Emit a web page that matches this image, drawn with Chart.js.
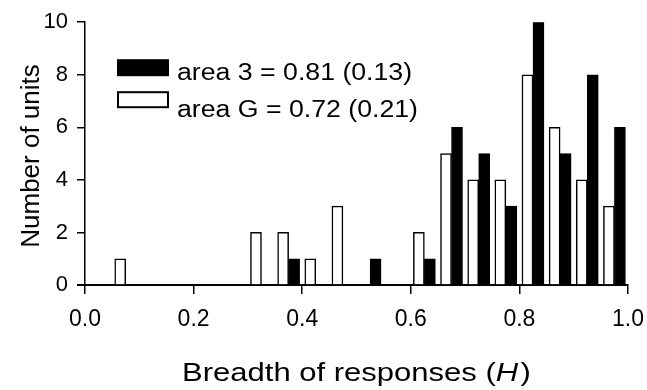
<!DOCTYPE html>
<html>
<head>
<meta charset="utf-8">
<script src="https://cdn.jsdelivr.net/npm/chart.js@4.4.0/dist/chart.umd.min.js"></script>
<style>
  html, body { margin: 0; padding: 0; background: #fff; }
  #wrap { width: 647px; height: 390px; }
</style>
</head>
<body>
<div id="wrap"><canvas id="hist"></canvas></div>
<script>
// lower edges of the 0.05-wide bins of H
const binStarts = [0.00, 0.05, 0.10, 0.15, 0.20, 0.25, 0.30, 0.35, 0.40, 0.45,
                   0.50, 0.55, 0.60, 0.65, 0.70, 0.75, 0.80, 0.85, 0.90, 0.95];
const binWidth = 0.05;
// number of units per bin
const area3Counts = [0, 0, 0, 0, 0, 0, 0, 1, 0, 0, 1, 0, 1, 6, 5, 3, 10, 5, 8, 6];
const areaGCounts = [0, 1, 0, 0, 0, 0, 2, 2, 1, 3, 0, 0, 2, 5, 4, 4, 8, 6, 4, 3];
const area3Label = 'area 3 = 0.81 (0.13)';
const areaGLabel = 'area G = 0.72 (0.21)';
const xTicks = [0.0, 0.2, 0.4, 0.6, 0.8, 1.0];
const yTicks = [0, 2, 4, 6, 8, 10];

const FONT = '"Liberation Sans", Arial, Helvetica, sans-serif';

// zeros are left out so no flat bar is drawn
function toPoints(counts) {
    return counts.map((c, i) => ({ x: binStarts[i] + binWidth / 2, y: c > 0 ? c : null }));
}

// text a bit wider than the font, like the scanned figure
function wideText(ctx, text, x, y, sx) {
    ctx.save();
    ctx.translate(x, y);
    ctx.scale(sx, 1);
    ctx.fillText(text, 0, 0);
    ctx.restore();
}

// legend + axis titles drawn by hand (italic H)
const extras = {
    id: 'extras',
    afterDraw(chart) {
        const ctx = chart.ctx;
        const a = chart.chartArea;
        ctx.save();

        // x axis runs a little past the y axis, as in the figure
        ctx.strokeStyle = '#000';
        ctx.lineWidth = 2;
        ctx.beginPath();
        ctx.moveTo(a.left - 8, a.bottom);
        ctx.lineTo(a.left, a.bottom);
        ctx.stroke();

        // legend
        const lx = a.left + 32, ly = a.top + 37;
        ctx.fillStyle = '#000';
        ctx.fillRect(lx, ly, 52, 17);
        ctx.fillStyle = '#fff';
        ctx.lineWidth = 2;
        ctx.fillRect(lx, ly + 32, 52, 17);
        ctx.strokeRect(lx + 1, ly + 33, 50, 15);
        ctx.fillStyle = '#000';
        ctx.font = '23px ' + FONT;
        ctx.textBaseline = 'alphabetic';
        ctx.textAlign = 'left';
        wideText(ctx, area3Label, lx + 60, ly + 21, 1.16);
        wideText(ctx, areaGLabel, lx + 60, ly + 58, 1.16);

        // x title with italic H
        const sx = 1.24;
        ctx.font = '25px ' + FONT;
        const p1 = 'Breadth of responses (';
        const p3 = ')';
        const w1 = ctx.measureText(p1).width * sx;
        const w3 = ctx.measureText(p3).width * sx;
        ctx.font = 'italic 25px ' + FONT;
        const w2 = (ctx.measureText('H').width + 2) * sx;
        const x = (a.left + a.right) / 2 - (w1 + w2 + w3) / 2;
        const yb = 381;
        ctx.font = '25px ' + FONT;
        wideText(ctx, p1, x, yb, sx);
        ctx.font = 'italic 25px ' + FONT;
        wideText(ctx, 'H', x + w1, yb, sx);
        ctx.font = '25px ' + FONT;
        wideText(ctx, p3, x + w1 + w2, yb, sx);

        // y title
        ctx.translate(39, 156);
        ctx.rotate(-Math.PI / 2);
        ctx.textAlign = 'center';
        ctx.font = '26px ' + FONT;
        ctx.fillText('Number of units', 0, 0);
        ctx.restore();
    }
};

new Chart(document.getElementById('hist'), {
    type: 'bar',
    data: {
        datasets: [
            { label: areaGLabel, data: toPoints(areaGCounts), backgroundColor: '#fff',
              borderColor: '#000', borderWidth: 1.5, barThickness: 11 },
            { label: area3Label, data: toPoints(area3Counts), backgroundColor: '#000',
              borderColor: '#000', borderWidth: 1, barThickness: 11 }
        ]
    },
    options: {
        responsive: true, maintainAspectRatio: false,
        animation: false,
        layout: { padding: { top: 20, right: 19, left: 0, bottom: 0 } },
        plugins: { legend: { display: false }, tooltip: { enabled: false } },
        scales: {
            x: {
                type: 'linear', min: 0, max: 1, offset: false,
                afterBuildTicks: s => { s.ticks = xTicks.map(v => ({ value: v })); },
                afterFit: s => { s.height = 105; s.paddingLeft = 0; s.paddingRight = 0; },
                grid: { display: true, offset: false, drawOnChartArea: false, drawTicks: true, tickLength: 9, color: '#000', lineWidth: 1.5 },
                border: { display: true, color: '#000', width: 2 },
                ticks: { color: '#000', padding: 12, font: { family: FONT, size: 23 },
                         callback: v => v.toFixed(1), maxRotation: 0 }
            },
            y: {
                min: 0, max: 10,
                afterBuildTicks: s => { s.ticks = yTicks.map(v => ({ value: v })); },
                afterFit: s => { s.width = 85; },
                grid: { display: true, drawOnChartArea: false, drawTicks: true, tickLength: 8, color: '#000', lineWidth: 1.5 },
                border: { display: true, color: '#000', width: 1.5 },
                ticks: { color: '#000', padding: 9, font: { family: FONT, size: 22 } }
            }
        }
    },
    plugins: [extras]
});
</script>
</body>
</html>
